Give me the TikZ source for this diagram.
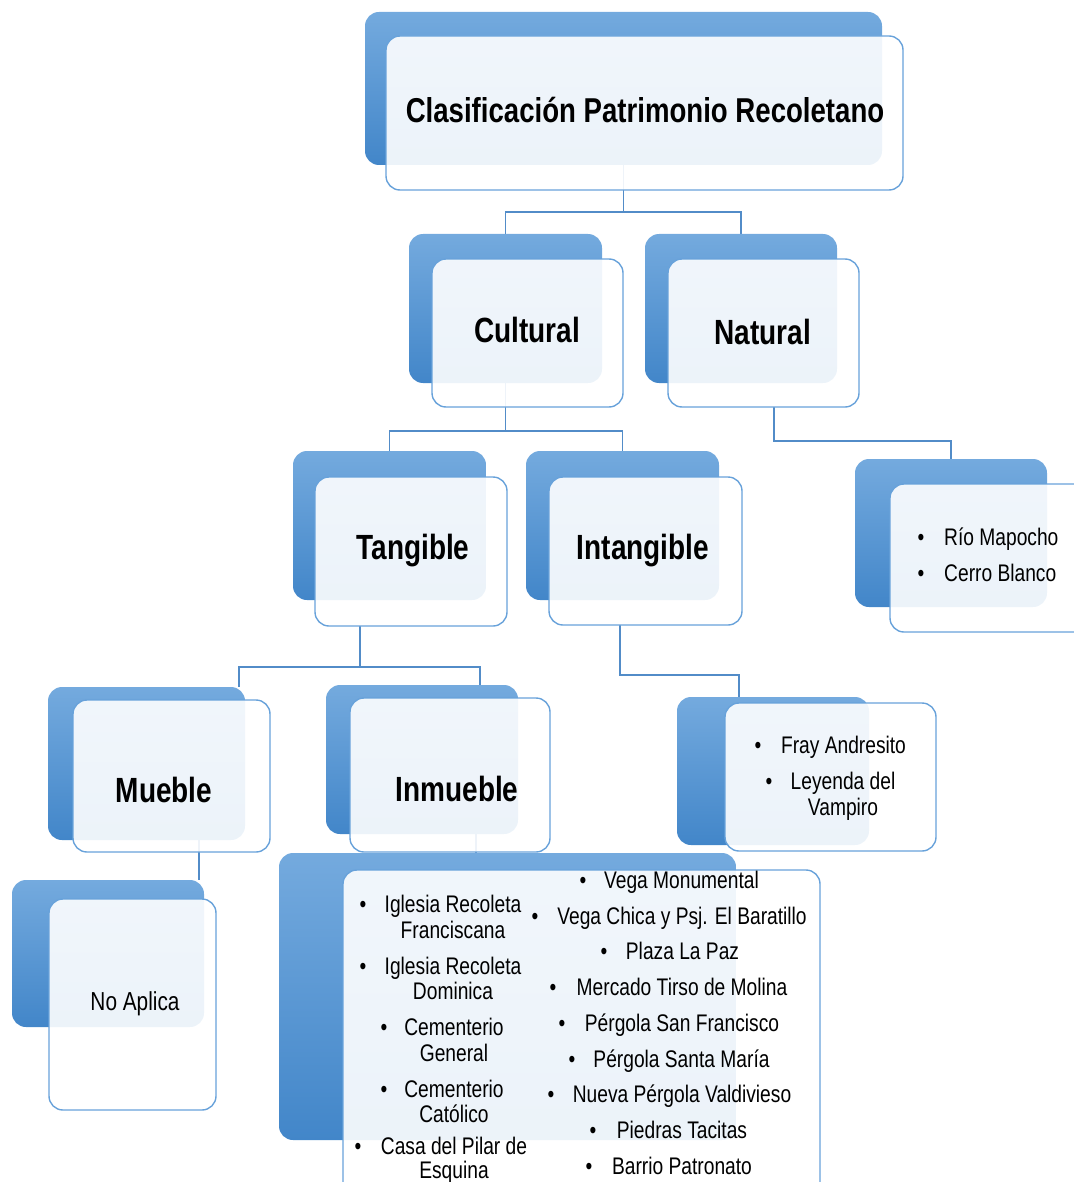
\documentclass[tikz,border=0pt]{standalone}
\usepackage{fontspec}
\setmainfont{Liberation Sans}[FakeStretch=0.8]
\usetikzlibrary{calc,backgrounds}
\definecolor{bktop}{RGB}{116,170,222}
\definecolor{bkbot}{RGB}{66,134,201}
\definecolor{bord}{RGB}{104,162,218}
\definecolor{connc}{RGB}{82,140,200}
\tikzset{
 backbox/.style={rectangle, rounded corners=14pt, top color=bktop, bottom color=bkbot, draw=none, inner sep=0pt, outer sep=0pt},
 frontbox/.style={rectangle, rounded corners=14pt, fill=white, fill opacity=0.9, draw=bord, line width=1.4pt, inner sep=0pt, outer sep=0pt},
 conn/.style={draw=connc, line width=1.4pt},
 bigtxt/.style={font=\fontsize{35}{40}\selectfont\bfseries, anchor=base, inner sep=0pt},
 lt/.style={font=\fontsize{24}{28}\selectfont, anchor=base, inner sep=0pt},
}
\begin{document}
\begin{tikzpicture}[x=1pt,y=-1pt]
\useasboundingbox (0,0) rectangle (1073,1182);
% boxes
\node[backbox, minimum width=517pt, minimum height=153pt] (topb) at (623.5,88.5) {};
\node[frontbox, minimum width=517pt, minimum height=154pt] (topf) at (644.5,113) {};
\node[backbox, minimum width=193pt, minimum height=149pt] (cultb) at (505.5,308.5) {};
\node[frontbox, minimum width=191pt, minimum height=148pt] (cultf) at (527.5,333) {};
\node[backbox, minimum width=192pt, minimum height=149pt] (natb) at (741,308.5) {};
\node[frontbox, minimum width=191pt, minimum height=148pt] (natf) at (763.5,333) {};
\node[backbox, minimum width=193pt, minimum height=149pt] (tangb) at (389.5,525.5) {};
\node[frontbox, minimum width=192pt, minimum height=149pt] (tangf) at (411,551.5) {};
\node[backbox, minimum width=193pt, minimum height=149pt] (intb) at (622.5,525.5) {};
\node[frontbox, minimum width=193pt, minimum height=148pt] (intf) at (645.5,551) {};
\node[backbox, minimum width=192pt, minimum height=148pt] (riob) at (951,533) {};
\node[frontbox, minimum width=200pt, minimum height=148pt] (riof) at (990,558) {};
\node[backbox, minimum width=197pt, minimum height=153pt] (muebb) at (146.5,763.5) {};
\node[frontbox, minimum width=197pt, minimum height=152pt] (muebf) at (171.5,776) {};
\node[backbox, minimum width=192pt, minimum height=149pt] (inmb) at (422,759.5) {};
\node[frontbox, minimum width=200pt, minimum height=154pt] (inmf) at (450,775) {};
\node[backbox, minimum width=192pt, minimum height=148pt] (frayb) at (773,771) {};
\node[frontbox, minimum width=211pt, minimum height=148pt] (frayf) at (830.5,777) {};
\node[backbox, minimum width=192pt, minimum height=147pt] (noab) at (108,953.5) {};
\node[frontbox, minimum width=167pt, minimum height=211pt] (noaf) at (132.5,1004.5) {};
\node[backbox, minimum width=457pt, minimum height=287pt] (bigb) at (507.5,996.5) {};
\node[frontbox, minimum width=477pt, minimum height=330pt] (bigf) at (581.5,1035) {};
% connectors
\begin{scope}[on background layer]
\draw[conn] (topb.south) -- ++(0,47) -| (cultb.north);
\draw[conn] (topb.south) -- ++(0,47) -| (natb.north);
\draw[conn] (cultb.south) -- ++(0,48) -| (tangb.north);
\draw[conn] (cultb.south) -- ++(0,48) -| (intb.north);
\draw[conn] ($(natf.south)+(10.5,0)$) -- ++(0,34) -| (riob.north);
\draw[conn] ($(tangf.south)+(-51,0)$) -- ++(0,41) -| ($(muebb.north)+(92.5,0)$);
\draw[conn] ($(tangf.south)+(-51,0)$) -- ++(0,41) -| ($(inmb.north)+(58,0)$);
\draw[conn] ($(intf.south)+(-25.5,0)$) -- ++(0,50) -| ($(frayb.north)+(-34,0)$);
\draw[conn] ($(muebb.south)+(52.5,0)$) -- ($(noab.north)+(91,0)$);
\draw[conn] ($(inmb.south)+(54,0)$) -- ($(bigb.north)+(-31.5,0)$);
\end{scope}
% labels
\node[bigtxt, font=\fontsize{34.5}{40}\selectfont\bfseries] (ttop) at (645,122.5) {Clasificación Patrimonio Recoletano};
\node[bigtxt] (tcult) at (527,342.5) {Cultural};
\node[bigtxt] (tnat) at (763,344.5) {Natural};
\node[bigtxt] (ttang) at (413,559) {Tangible};
\node[bigtxt] (tint) at (643,559) {Intangible};
\node[bigtxt] (tmueb) at (164,802.5) {Mueble};
\node[bigtxt] (tinm) at (457,801.5) {Inmueble};
\node[lt, font=\fontsize{26}{30}\selectfont] (tnoa) at (135,1010) {No Aplica};
% Rio
\node[lt] (rb1) at (921,545) {\textbullet};
\node[lt, anchor=base west] (rt1) at (944,545) {Río Mapocho};
\node[lt] (rb2) at (921,581) {\textbullet};
\node[lt, anchor=base west] (rt2) at (944,581) {Cerro Blanco};
% Fray
\node[lt] (fb1) at (758,753) {\textbullet};
\node[lt] (ft1) at (843.5,753) {Fray Andresito};
\node[lt] (fb2) at (769,789) {\textbullet};
\node[lt] (ft2) at (843,789) {Leyenda del};
\node[lt] (ft3) at (843,815) {Vampiro};
% left column
\node[lt] (lb1) at (363,912) {\textbullet};
\node[lt] (lt1) at (453,912) {Iglesia Recoleta};
\node[lt] (lt1b) at (453,938) {Franciscana};
\node[lt] (lb2) at (363,974) {\textbullet};
\node[lt] (lt2) at (453,974) {Iglesia Recoleta};
\node[lt] (lt2b) at (453,999) {Dominica};
\node[lt] (lb3) at (384,1035) {\textbullet};
\node[lt] (lt3) at (454,1035) {Cementerio};
\node[lt] (lt3b) at (454,1061) {General};
\node[lt] (lb4) at (384,1097) {\textbullet};
\node[lt] (lt4) at (454,1097) {Cementerio};
\node[lt] (lt4b) at (454,1122) {Católico};
\node[lt] (lb5) at (358,1154) {\textbullet};
\node[lt] (lt5) at (454,1154) {Casa del Pilar de};
\node[lt] (lt5b) at (454,1178) {Esquina};
% right column
\node[lt] (rcb1) at (583,888) {\textbullet};
\node[lt] (rct1) at (681.5,888) {Vega Monumental};
\node[lt] (rcb2) at (535,924) {\textbullet};
\node[lt] (rct2) at (682,924) {Vega Chica y Psj. El Baratillo};
\node[lt] (rcb3) at (604,959) {\textbullet};
\node[lt] (rct3) at (682.5,959) {Plaza La Paz};
\node[lt] (rcb4) at (553,995) {\textbullet};
\node[lt] (rct4) at (682,995) {Mercado Tirso de Molina};
\node[lt] (rcb5) at (562,1031) {\textbullet};
\node[lt] (rct5) at (682,1031) {Pérgola San Francisco};
\node[lt] (rcb6) at (572,1067) {\textbullet};
\node[lt] (rct6) at (681.5,1067) {Pérgola Santa María};
\node[lt] (rcb7) at (551,1102) {\textbullet};
\node[lt] (rct7) at (682,1102) {Nueva Pérgola Valdivieso};
\node[lt] (rcb8) at (593,1138) {\textbullet};
\node[lt] (rct8) at (682,1138) {Piedras Tacitas};
\node[lt] (rcb9) at (589,1174) {\textbullet};
\node[lt] (rct9) at (682,1174) {Barrio Patronato};
\end{tikzpicture}
\end{document}
